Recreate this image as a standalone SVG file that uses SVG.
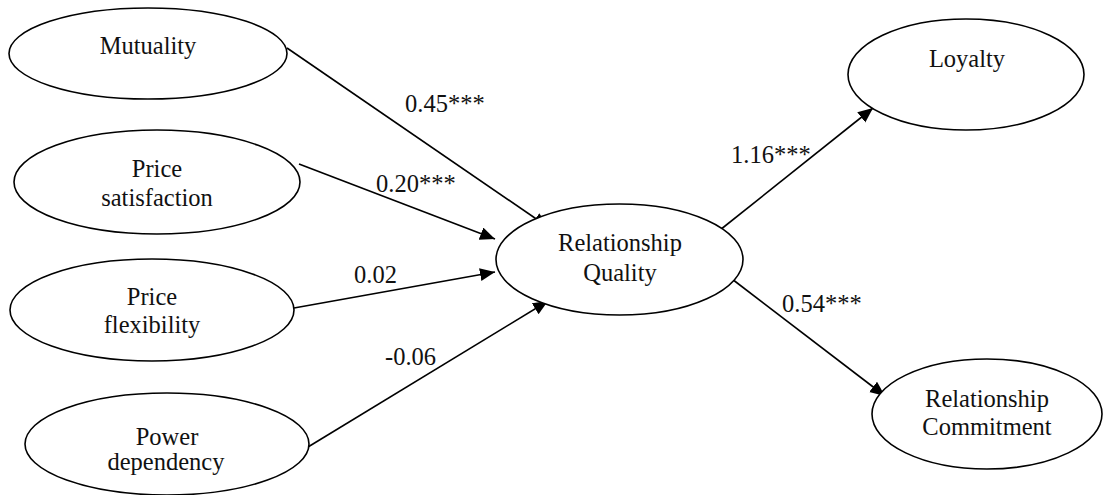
<svg xmlns="http://www.w3.org/2000/svg" width="1105" height="495" viewBox="0 0 1105 495">
<style>
.n{fill:#fff;stroke:#000;stroke-width:1.6}
.t{font-size:24.5px;fill:#111;text-anchor:middle}
.l{font-size:24.5px;fill:#111}
.c{stroke:#000;stroke-width:1.6;fill:none;marker-end:url(#ah)}
</style>
<defs>
<marker id="ah" markerUnits="userSpaceOnUse" markerWidth="16" markerHeight="14" refX="15" refY="6.5" orient="auto">
<path d="M0,0 L15,6.5 L0,13 Z" fill="#000"/>
</marker>
</defs>
<rect width="1105" height="495" fill="#fff"/>
<g font-family="Liberation Serif, Times New Roman, DejaVu Serif, serif">
<g id="connectors">
<line class="c" x1="287" y1="48" x2="548" y2="227"/>
<line class="c" x1="299" y1="164" x2="495" y2="239"/>
<line class="c" x1="294" y1="308" x2="495" y2="272"/>
<line class="c" x1="308" y1="447" x2="548" y2="301"/>
<line class="c" x1="720" y1="230" x2="873" y2="108"/>
<line class="c" x1="732" y1="279" x2="885" y2="396"/>
<text class="l" x="405" y="112">0.45***</text>
<text class="l" x="376" y="192">0.20***</text>
<text class="l" x="354" y="283">0.02</text>
<text class="l" x="385" y="365">-0.06</text>
<text class="l" x="731" y="163">1.16***</text>
<text class="l" x="782" y="312">0.54***</text>
</g>
<g id="mutuality">
<ellipse class="n" cx="148" cy="53.5" rx="139" ry="45.5"/>
<text class="t" x="148" y="54">Mutuality</text>
</g>
<g id="price-satisfaction">
<ellipse class="n" cx="157" cy="182" rx="143" ry="52"/>
<text class="t" x="157" y="177">Price</text>
<text class="t" x="157" y="206">satisfaction</text>
</g>
<g id="price-flexibility">
<ellipse class="n" cx="152" cy="310" rx="142" ry="51"/>
<text class="t" x="152" y="305">Price</text>
<text class="t" x="152" y="333">flexibility</text>
</g>
<g id="power-dependency">
<ellipse class="n" cx="167" cy="444" rx="142" ry="51"/>
<text class="t" x="167" y="445">Power</text>
<text class="t" x="166" y="470">dependency</text>
</g>
<g id="relationship-quality">
<ellipse class="n" cx="619.5" cy="259.5" rx="123.5" ry="55.5"/>
<text class="t" x="620" y="251">Relationship</text>
<text class="t" x="620" y="281">Quality</text>
</g>
<g id="loyalty">
<ellipse class="n" cx="966" cy="74.5" rx="118" ry="55.5"/>
<text class="t" x="967" y="67">Loyalty</text>
</g>
<g id="relationship-commitment">
<ellipse class="n" cx="987" cy="414" rx="115" ry="55"/>
<text class="t" x="987" y="407">Relationship</text>
<text class="t" x="987" y="435">Commitment</text>
</g>
</g>
</svg>
